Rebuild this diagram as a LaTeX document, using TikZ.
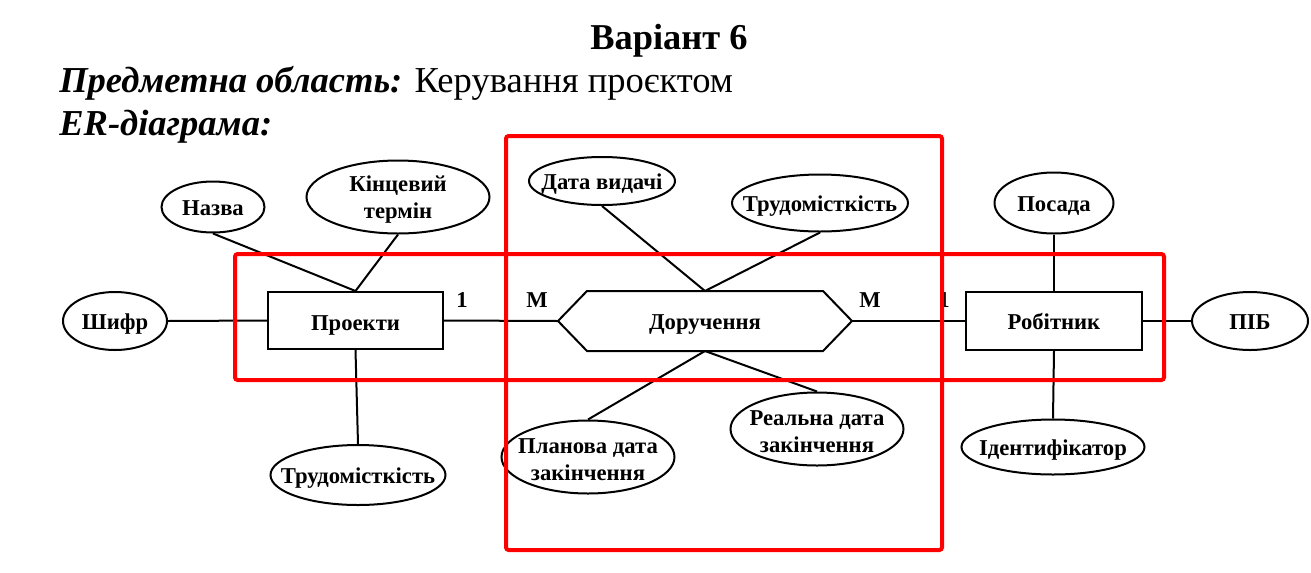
\documentclass[tikz,border=0pt]{standalone}
\usepackage{fontspec}
\setmainfont{Liberation Serif}
\usetikzlibrary{shapes.geometric,calc}
\begin{document}
\begin{tikzpicture}[x=0.75pt,y=-0.75pt,
  lbl/.style={font=\bfseries\fontsize{17}{20}\selectfont, align=center, yshift=-2pt},
  one/.style={font=\bfseries\fontsize{17}{20}\selectfont, text height=0.66em, text depth=0pt, yshift=-3pt},
  attr/.style={draw, ellipse, line width=1.5pt, inner sep=0pt},
  ent/.style={draw, rectangle, line width=1.5pt, inner sep=0pt},
  conn/.style={line width=1.5pt},
  card/.style={font=\bfseries\fontsize{17}{20}\selectfont, inner sep=0pt},
  redbox/.style={draw=red, line width=3pt, rounded corners=2pt}]
\useasboundingbox (0,0) rectangle (1311,572);

% headings
\node[font=\bfseries\fontsize{27.3}{32}\selectfont, anchor=base] (title) at (669,49) {Варіант 6};
\node[font=\fontsize{27.4}{32}\selectfont, anchor=base west, inner sep=0pt] (subj) at (59,92) {\textbf{\textit{Предметна область:}} Керування проєктом};
\node[font=\fontsize{27.4}{32}\selectfont, anchor=base west, inner sep=0pt] (er) at (59,135) {\textbf{\textit{ER-діаграма:}}};

% entities
\node[ent, minimum width=131.25pt, minimum height=42.75pt, label={[one,yshift=-1.2pt]center:Проекти}] (proekty) at (355.5,320.5) {};
\node[ent, minimum width=132pt, minimum height=43.5pt, label={[one]center:Робітник}] (robit) at (1054,321) {};
\node[ent, draw=none, minimum width=219pt, minimum height=43.5pt, label={[one]center:Доручення}] (dor) at (705,321) {};
\draw[conn, line join=miter] (dor.west) -- ($(dor.north west)+(29,0)$) -- ($(dor.north east)+(-29,0)$)
  -- (dor.east) -- ($(dor.south east)+(-29,0)$) -- ($(dor.south west)+(29,0)$) -- cycle;

% attributes
\node[attr, minimum width=78pt, minimum height=43.5pt, label={[one]center:Шифр}] (shyfr) at (115,321) {};
\node[attr, minimum width=77.25pt, minimum height=38.25pt, label={[one]center:Назва}] (nazva) at (213,207) {};
\node[attr, minimum width=137.25pt, minimum height=54.75pt, label={[lbl]center:Кінцевий\\термін}] (kinc) at (398,197) {};
\node[attr, minimum width=131.25pt, minimum height=45pt, label={[one]center:Трудомісткість}] (trud1) at (358,475) {};
\node[attr, minimum width=109.5pt, minimum height=36pt, label={[one]center:Дата видачі}] (data) at (602,181) {};
\node[attr, minimum width=132pt, minimum height=42.75pt, label={[one]center:Трудомісткість}] (trud2) at (820,203) {};
\node[attr, minimum width=129.75pt, minimum height=54.75pt, label={[lbl]center:Планова дата\\закінчення}] (plan) at (588,457) {};
\node[attr, minimum width=129.75pt, minimum height=54.75pt, label={[lbl]center:Реальна дата\\закінчення}] (real) at (817,429) {};
\node[attr, minimum width=89.25pt, minimum height=45.75pt, label={[one]center:Посада}] (posada) at (1054,203) {};
\node[attr, minimum width=87pt, minimum height=43.5pt, label={[one]center:ПІБ}] (pib) at (1250,321) {};
\node[attr, minimum width=137.25pt, minimum height=41.25pt, label={[one]center:Ідентифікатор}] (ident) at (1053,447) {};

% connectors
\draw[conn] (shyfr.east) -- (proekty.west);
\draw[conn] (nazva.south) -- (proekty.north);
\draw[conn] (kinc.south) -- (proekty.north);
\draw[conn] (proekty.south) -- (trud1.north);
\draw[conn] (proekty.east) -- (dor.west);
\draw[conn] (data.south) -- (dor.north);
\draw[conn] (trud2.south) -- (dor.north);
\draw[conn] (dor.south) -- (plan.north);
\draw[conn] (dor.south) -- (real.north);
\draw[conn] (dor.east) -- (robit.west);
\draw[conn] (posada.south) -- (robit.north);
\draw[conn] (robit.east) -- (pib.west);
\draw[conn] (robit.south) -- (ident.north);

% cardinalities
\node[card] (c1) at (462,300) {1};
\node[card] (c2) at (537,300) {M};
\node[card] (c3) at (870,300) {M};
\node[card] (c4) at (944,300) {1};

% highlight boxes
\draw[redbox] (506,136) rectangle (942,550);
\draw[redbox] (235,254) rectangle (1164,380);
\end{tikzpicture}
\end{document}
